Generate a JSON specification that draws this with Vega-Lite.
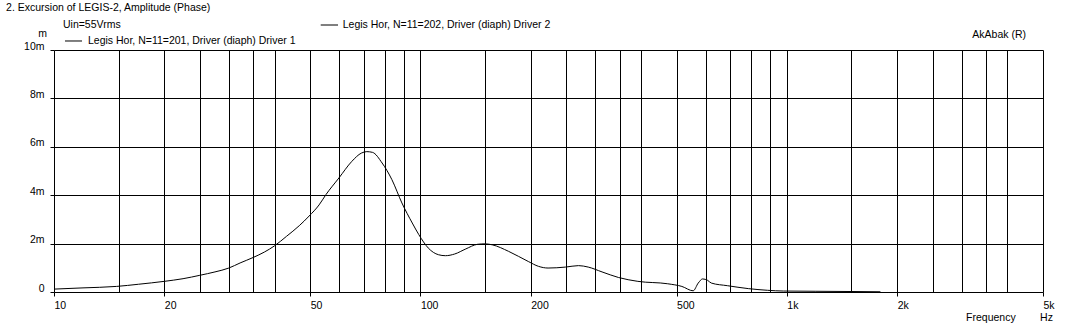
{
  "$schema": "https://vega.github.io/schema/vega-lite/v6.json",
  "width": 989,
  "height": 242,
  "autosize": {"type": "none"},
  "padding": {"left": 54, "top": 50, "right": 25, "bottom": 37},
  "background": "white",
  "config": {
    "font": "Liberation Sans",
    "view": {"stroke": null},
    "text": {"font": "Liberation Sans", "fontSize": 10.5, "color": "black", "align": "left", "baseline": "middle"}
  },
  "layer": [
    {
      "data": {
        "values": [
          {"f": 10, "v": 0.00012},
          {"f": 12, "v": 0.00017},
          {"f": 14.8, "v": 0.00023},
          {"f": 17, "v": 0.00032},
          {"f": 20, "v": 0.00044},
          {"f": 22.5, "v": 0.00055},
          {"f": 25, "v": 0.00069},
          {"f": 27.5, "v": 0.00083},
          {"f": 30, "v": 0.00099},
          {"f": 32.2, "v": 0.0012},
          {"f": 35, "v": 0.00143},
          {"f": 37.5, "v": 0.00165},
          {"f": 40, "v": 0.00191},
          {"f": 43.1, "v": 0.0023},
          {"f": 46.7, "v": 0.00274},
          {"f": 49.7, "v": 0.00314},
          {"f": 52.9, "v": 0.0036},
          {"f": 55.2, "v": 0.00402},
          {"f": 59.9, "v": 0.00471},
          {"f": 65, "v": 0.0054},
          {"f": 69, "v": 0.00574},
          {"f": 71.4, "v": 0.0058},
          {"f": 74, "v": 0.00577},
          {"f": 78.6, "v": 0.00533},
          {"f": 83.6, "v": 0.00464},
          {"f": 89, "v": 0.00368},
          {"f": 95, "v": 0.00285},
          {"f": 99, "v": 0.00237},
          {"f": 105, "v": 0.00182},
          {"f": 112, "v": 0.00154},
          {"f": 117, "v": 0.0015},
          {"f": 124, "v": 0.00157},
          {"f": 133, "v": 0.00178},
          {"f": 143, "v": 0.00197},
          {"f": 150, "v": 0.00199},
          {"f": 157, "v": 0.00195},
          {"f": 174, "v": 0.00168},
          {"f": 197, "v": 0.00126},
          {"f": 210, "v": 0.00106},
          {"f": 223, "v": 0.00099},
          {"f": 249, "v": 0.00103},
          {"f": 270, "v": 0.00109},
          {"f": 287, "v": 0.00103},
          {"f": 313, "v": 0.00083},
          {"f": 347, "v": 0.0006},
          {"f": 392, "v": 0.00044},
          {"f": 473, "v": 0.00034},
          {"f": 517, "v": 0.00023},
          {"f": 555, "v": 0.00005},
          {"f": 573, "v": 0.00037},
          {"f": 589, "v": 0.00054},
          {"f": 608, "v": 0.00048},
          {"f": 622, "v": 0.00037},
          {"f": 689, "v": 0.00026},
          {"f": 785, "v": 0.00014},
          {"f": 886, "v": 0.00007},
          {"f": 980, "v": 0.00004},
          {"f": 1200, "v": 0.00003},
          {"f": 1500, "v": 0.00002},
          {"f": 1800, "v": 0.00001}
        ]
      },
      "mark": {"type": "line", "color": "black", "strokeWidth": 1, "interpolate": "monotone"},
      "encoding": {
        "x": {
          "field": "f",
          "type": "quantitative",
          "scale": {"type": "log", "domain": [10, 5000], "nice": false},
          "axis": {
            "values": [10, 15, 20, 25, 30, 35, 40, 50, 60, 70, 80, 90, 100, 150, 200, 250, 300, 350, 400, 500, 600, 700, 800, 900, 1000, 1500, 2000, 2500, 3000, 3500, 4000, 5000],
            "grid": true,
            "gridColor": "black",
            "gridOpacity": 1,
            "gridWidth": 1,
            "domain": false,
            "ticks": true,
            "tickSize": 4,
            "tickColor": "black",
            "tickOpacity": {"condition": {"test": "indexof([10,20,50,100,200,500,1000,2000,5000], datum.value) >= 0", "value": 1}, "value": 0},
            "labelExpr": "indexof([10,20,50,100,200,500,1000,2000,5000], datum.value) >= 0 ? format(datum.value, '~s') : ''",
            "labelAlign": "left",
            "labelBaseline": "top",
            "labelPadding": 4,
            "labelFont": "Liberation Sans",
            "labelFontSize": 10.5,
            "labelColor": "black",
            "labelOverlap": false,
            "labelFlush": false,
            "labelBound": false,
            "title": null
          }
        },
        "y": {
          "field": "v",
          "type": "quantitative",
          "scale": {"domain": [0, 0.01], "nice": false},
          "axis": {
            "values": [0, 0.002, 0.004, 0.006, 0.008, 0.01],
            "labelExpr": "datum.value == 0 ? '0' : format(datum.value, '~s')",
            "grid": true,
            "gridColor": "black",
            "gridOpacity": 1,
            "gridWidth": 1,
            "domain": false,
            "tickSize": 4,
            "tickColor": "black",
            "labelPadding": 6,
            "labelBaseline": "alphabetic",
            "labelOffset": -1,
            "labelFont": "Liberation Sans",
            "labelFontSize": 10.5,
            "labelColor": "black",
            "labelOverlap": false,
            "labelFlush": false,
            "labelBound": false,
            "title": "m",
            "titleAngle": 0,
            "titleX": -12,
            "titleY": -17,
            "titleAlign": "center",
            "titleBaseline": "middle",
            "titleFont": "Liberation Sans",
            "titleFontSize": 10.5,
            "titleFontWeight": "normal",
            "titleColor": "black"
          }
        }
      }
    },
    {
      "data": {"values": [{"t": "2. Excursion of LEGIS-2, Amplitude (Phase)"}]},
      "mark": {"type": "text"},
      "encoding": {"x": {"datum": 7.4}, "y": {"datum": 0.011736}, "text": {"field": "t"}}
    },
    {
      "data": {"values": [{"t": "Uin=55Vrms"}]},
      "mark": {"type": "text"},
      "encoding": {"x": {"datum": 10.58}, "y": {"datum": 0.011033}, "text": {"field": "t"}}
    },
    {
      "data": {"values": [{"t": "Legis Hor, N=11=201, Driver (diaph) Driver 1"}]},
      "mark": {"type": "text"},
      "encoding": {"x": {"datum": 12.38}, "y": {"datum": 0.010372}, "text": {"field": "t"}}
    },
    {
      "data": {"values": [{"t": "Legis Hor, N=11=202, Driver (diaph) Driver 2"}]},
      "mark": {"type": "text"},
      "encoding": {"x": {"datum": 61.37}, "y": {"datum": 0.011033}, "text": {"field": "t"}}
    },
    {
      "data": {"values": [{"t": "AkAbak (R)"}]},
      "mark": {"type": "text", "align": "right"},
      "encoding": {"x": {"datum": 4494}, "y": {"datum": 0.01062}, "text": {"field": "t"}}
    },
    {
      "data": {"values": [{"t": "Frequency"}]},
      "mark": {"type": "text"},
      "encoding": {"x": {"datum": 3083}, "y": {"datum": -0.001074}, "text": {"field": "t"}}
    },
    {
      "data": {"values": [{"t": "Hz"}]},
      "mark": {"type": "text"},
      "encoding": {"x": {"datum": 4908}, "y": {"datum": -0.001074}, "text": {"field": "t"}}
    },
    {
      "data": {"values": [{"s": "Driver 1"}]},
      "mark": {"type": "rule", "color": "black", "strokeWidth": 1},
      "encoding": {"x": {"datum": 10.715}, "x2": {"datum": 11.925}, "y": {"datum": 0.010372}}
    },
    {
      "data": {"values": [{"s": "Driver 2"}]},
      "mark": {"type": "rule", "color": "black", "strokeWidth": 1},
      "encoding": {"x": {"datum": 53.44}, "x2": {"datum": 59.58}, "y": {"datum": 0.011033}}
    }
  ]
}
